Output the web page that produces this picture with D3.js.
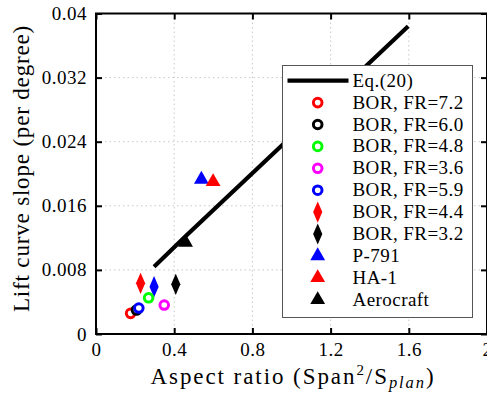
<!DOCTYPE html>
<html><head><meta charset="utf-8">
<script src="https://cdn.jsdelivr.net/npm/d3@7"></script>
</head>
<body style="margin:0;background:#fff"><svg id="c" width="487" height="398"></svg>
<script>
// ---- data ----
const xTicks = [0, 0.4, 0.8, 1.2, 1.6, 2];
const xTickLabels = ["0", "0.4", "0.8", "1.2", "1.6", "2"];
const yTicks = [0, 0.008, 0.016, 0.024, 0.032, 0.04];
const yTickLabels = ["0", "0.008", "0.016", "0.024", "0.032", "0.04"];
const eqLineX = [0.297, 0.458, 1.597];
const eqLineY = [0.0084, 0.0122, 0.0384];
const seriesNames = ["BOR, FR=7.2","BOR, FR=6.0","BOR, FR=4.8","BOR, FR=3.6","BOR, FR=5.9","BOR, FR=4.4","BOR, FR=3.2","P-791","HA-1","Aerocraft"];
const seriesColors = ["#ff0000","#000000","#00ff00","#ff00ff","#0000ff","#ff0000","#000000","#0000ff","#ff0000","#000000"];
const seriesShapes = ["circle","circle","circle","circle","circle","diamond","diamond","triangle","triangle","triangle"];
const seriesX = [0.177, 0.207, 0.269, 0.349, 0.219, 0.228, 0.408, 0.539, 0.599, 0.458];
const seriesY = [0.00258, 0.00299, 0.00452, 0.00361, 0.00324, 0.00632, 0.0062, 0.0193, 0.0190, 0.01143];
// extra unlabeled point (blue diamond)
const extraX = [0.297];
const extraY = [0.0059];
const extraColor = "#0000ff";

const FONT = '"Liberation Serif"';
const svg = d3.select("#c");
const L = 96, R = 487, T = 13.5, B = 334;
const x = d3.scaleLinear().domain([0, 2]).range([L, R]);
const y = d3.scaleLinear().domain([0, 0.04]).range([B, T]);

// grid
const grid = svg.append("g").attr("stroke", "#c8c8c8").attr("stroke-width", 1).attr("stroke-dasharray", "1.5,3");
grid.selectAll(".gx").data(xTicks.slice(1, -1)).join("line")
  .attr("x1", d => x(d)).attr("x2", d => x(d)).attr("y1", T).attr("y2", B);
grid.selectAll(".gy").data(yTicks.slice(1, -1)).join("line")
  .attr("y1", d => y(d)).attr("y2", d => y(d)).attr("x1", L).attr("x2", R);

// axes (inward ticks)
const fs = 19;
const ax = svg.append("g").attr("transform", `translate(0,${B})`)
  .call(d3.axisBottom(x).tickValues(xTicks).tickFormat((d, i) => xTickLabels[i]).tickSize(-6).tickPadding(9));
const ay = svg.append("g").attr("transform", `translate(${L},0)`)
  .call(d3.axisLeft(y).tickValues(yTicks).tickFormat((d, i) => yTickLabels[i]).tickSize(-6).tickPadding(9));
const at = svg.append("g").attr("transform", `translate(0,${T})`)
  .call(d3.axisTop(x).tickValues(xTicks).tickFormat("").tickSize(-6));
const ar = svg.append("g").attr("transform", `translate(${R},0)`)
  .call(d3.axisRight(y).tickValues(yTicks).tickFormat("").tickSize(-6));
[ax, ay, at, ar].forEach(g => {
  g.attr("font-family", null);
  g.select(".domain").remove();
  g.selectAll(".tick line").attr("stroke", "#000").attr("stroke-width", 2);
  g.selectAll("text").attr("font-size", fs).style("font-family", FONT).attr("fill", "#000")
    .style("letter-spacing", "0.5px");
});
svg.append("rect").attr("x", L).attr("y", T).attr("width", R - L).attr("height", B - T)
  .attr("fill", "none").attr("stroke", "#000").attr("stroke-width", 2);

// Eq line
const lineData = eqLineX.map((v, i) => [v, eqLineY[i]]);
svg.append("path").datum(lineData)
  .attr("d", d3.line().x(d => x(d[0])).y(d => y(d[1])))
  .attr("fill", "none").attr("stroke", "#000").attr("stroke-width", 4.2);

function drawMarker(g, shape, color, cx, cy) {
  if (shape === "circle") {
    g.append("circle").attr("cx", cx).attr("cy", cy).attr("r", 4.3)
      .attr("fill", "#fff").attr("stroke", color).attr("stroke-width", 3);
  } else if (shape === "diamond") {
    g.append("path").attr("d", d3.symbol().type(d3.symbolDiamond).size(130)())
      .attr("transform", `translate(${cx},${cy}) scale(0.75,1)`).attr("fill", color);
  } else {
    g.append("path").attr("d", d3.symbol().type(d3.symbolTriangle).size(95)())
      .attr("transform", `translate(${cx},${cy})`).attr("fill", color);
  }
}

const marks = svg.append("g");
drawMarker(marks, "diamond", extraColor, x(extraX[0]), y(extraY[0]));
seriesNames.forEach((n, i) => drawMarker(marks, seriesShapes[i], seriesColors[i], x(seriesX[i]), y(seriesY[i])));

// legend
const lg = svg.append("g");
const lx = 282.5, ly = 65.5, lw = 190, lh = 252;
lg.append("rect").attr("x", lx).attr("y", ly).attr("width", lw).attr("height", lh)
  .attr("fill", "#fff").attr("stroke", "#555").attr("stroke-width", 1);
const rowY = i => 80.7 + i * 21.9;
lg.append("line").attr("x1", 287.5).attr("x2", 348.5).attr("y1", rowY(0)).attr("y2", rowY(0))
  .attr("stroke", "#000").attr("stroke-width", 4.2);
const legText = (t, yy) => lg.append("text").attr("x", 352.5).attr("y", yy).attr("font-size", 19)
  .style("font-family", FONT).style("letter-spacing", "0.45px").text(t);
legText("Eq.(20)", rowY(0) + 6);
seriesNames.forEach((n, i) => {
  drawMarker(lg, seriesShapes[i], seriesColors[i], 317.7, rowY(i + 1));
  legText(n, rowY(i + 1) + 6);
});

// axis labels
function fitWidth(sel, target, nChars) {
  const w = sel.node().getComputedTextLength();
  sel.style("letter-spacing", ((target - w) / nChars) + "px");
}
const xl = svg.append("text").attr("x", 293).attr("y", 384.3).attr("text-anchor", "middle")
  .attr("font-size", 23).style("font-family", FONT);
xl.append("tspan").text("Aspect ratio (Span");
xl.append("tspan").attr("font-size", 15).attr("dy", -9).text("2");
xl.append("tspan").attr("dy", 9).text("/S");
xl.append("tspan").attr("font-size", 16.5).attr("font-style", "italic").attr("dy", 4).text("plan");
xl.append("tspan").attr("dy", -4).text(")");
fitWidth(xl, 287, 27);
const yl = svg.append("text").attr("transform", "translate(28.5,168.5) rotate(-90)").attr("text-anchor", "middle")
  .attr("font-size", 23).style("font-family", FONT).text("Lift curve slope (per degree)");
fitWidth(yl, 287, 29);
</script></body></html>
